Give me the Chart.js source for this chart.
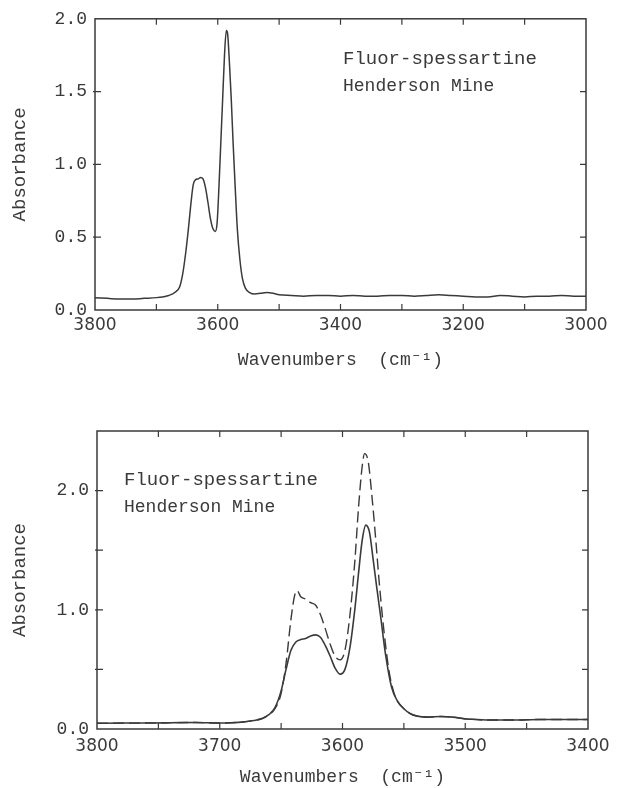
<!DOCTYPE html>
<html>
<head>
<meta charset="utf-8">
<script src="https://cdn.jsdelivr.net/npm/chart.js@4/dist/chart.umd.min.js"></script>
<style>
  html, body { margin: 0; padding: 0; background: #fff; }
  #wrap { position: relative; width: 624px; height: 788px; }
  .box { position: absolute; left: 0; width: 624px; }
</style>
</head>
<body>
<div id="wrap">
  <div class="box" style="top:0;height:380px;"><canvas id="c1" width="624" height="380"></canvas></div>
  <div class="box" style="top:400px;height:388px;"><canvas id="c2" width="624" height="388"></canvas></div>
</div>
<script>
// ---------------- DATA ----------------
// Top panel: Fluor-spessartine, Henderson Mine, 3800-3000 cm-1
const topWavenumbers = [3800,3780,3760,3740,3720,3700,3690,3680,3670,3662,3657,3652,3648,3644,3640,3636,3632,3628,3624,3620,3616,3612,3608,3604,3601,3598,3595,3592,3589,3586,3584,3581,3578,3575,3572,3568,3564,3560,3555,3548,3540,3530,3520,3510,3500,3480,3460,3440,3420,3400,3380,3360,3340,3320,3300,3280,3260,3240,3220,3200,3180,3160,3140,3120,3100,3080,3060,3040,3020,3000];
const topAbsorbance  = [0.085,0.08,0.075,0.075,0.08,0.085,0.09,0.10,0.12,0.16,0.25,0.40,0.55,0.72,0.86,0.895,0.90,0.91,0.90,0.84,0.74,0.63,0.56,0.54,0.60,0.85,1.15,1.45,1.75,1.92,1.90,1.70,1.45,1.15,0.88,0.55,0.35,0.22,0.15,0.12,0.11,0.115,0.12,0.115,0.105,0.10,0.095,0.10,0.10,0.095,0.10,0.095,0.095,0.10,0.10,0.095,0.10,0.105,0.10,0.095,0.09,0.09,0.10,0.095,0.09,0.095,0.095,0.10,0.095,0.095];
const topXTicks = [3800,3600,3400,3200,3000];
const topYTicks = [0.0,0.5,1.0,1.5,2.0];

// Bottom panel: 3800-3400 cm-1, solid and dashed spectra
const solidWavenumbers = [3800,3780,3760,3740,3720,3700,3690,3680,3670,3665,3660,3655,3650,3646,3642,3638,3634,3630,3626,3622,3618,3614,3610,3606,3602,3598,3594,3590,3587,3584,3581,3578,3575,3572,3569,3565,3560,3555,3550,3545,3540,3530,3520,3510,3500,3490,3480,3460,3440,3420,3400];
const solidAbsorbance  = [0.048,0.05,0.05,0.052,0.055,0.05,0.052,0.06,0.075,0.09,0.12,0.18,0.32,0.50,0.66,0.73,0.75,0.76,0.78,0.79,0.77,0.70,0.61,0.51,0.46,0.50,0.68,1.00,1.30,1.58,1.71,1.65,1.42,1.18,0.95,0.63,0.35,0.23,0.17,0.13,0.11,0.10,0.105,0.10,0.085,0.08,0.075,0.075,0.08,0.08,0.08];
const dashedWavenumbers = [3800,3760,3720,3700,3680,3670,3665,3660,3655,3650,3646,3642,3639,3637,3634,3630,3626,3622,3618,3614,3610,3606,3602,3598,3594,3590,3587,3584,3582,3579,3576,3573,3570,3566,3562,3558,3555,3550,3545,3540,3530,3520,3510,3500,3480,3460,3440,3420,3400];
const dashedAbsorbance  = [0.048,0.05,0.055,0.05,0.06,0.075,0.09,0.12,0.17,0.30,0.55,0.92,1.12,1.16,1.11,1.09,1.06,1.04,0.96,0.84,0.71,0.61,0.58,0.66,0.95,1.40,1.85,2.20,2.31,2.24,1.95,1.60,1.22,0.80,0.48,0.30,0.23,0.17,0.13,0.11,0.10,0.105,0.10,0.085,0.075,0.075,0.08,0.08,0.08];
const bottomXTicks = [3800,3700,3600,3500,3400];
const bottomYTicks = [0.0,1.0,2.0];

const sampleLines = ['Fluor-spessartine', 'Henderson Mine'];
const xTitle = 'Wavenumbers  (cm\u207B\u00B9)';
const yTitle = 'Absorbance';

// ---------------- RENDERING ----------------
const INK = '#3a3a3a';
const MONO = '"Liberation Mono", "DejaVu Sans Mono", monospace';
const SANS = '"DejaVu Sans", sans-serif';

function pts(xs, ys) { return xs.map((x, i) => ({ x: x, y: ys[i] })); }

const framePlugin = {
  id: 'frame',
  afterDatasetsDraw(chart, args, opts) {
    const ctx = chart.ctx, a = chart.chartArea;
    const xs = chart.scales.x, ys = chart.scales.y;
    ctx.save();
    ctx.strokeStyle = INK;
    ctx.lineWidth = 1.5;
    ctx.strokeRect(a.left, a.top, a.right - a.left, a.bottom - a.top);
    ctx.lineWidth = 1.2;
    const L = 6;
    ctx.beginPath();
    xs.ticks.forEach(t => {
      if (t.value === xs.min || t.value === xs.max) return;
      const p = xs.getPixelForValue(t.value);
      ctx.moveTo(p, a.bottom); ctx.lineTo(p, a.bottom - L);
      ctx.moveTo(p, a.top); ctx.lineTo(p, a.top + L);
    });
    ys.ticks.forEach(t => {
      if (t.value === ys.min || t.value === ys.max) return;
      const p = ys.getPixelForValue(t.value);
      ctx.moveTo(a.left - 2, p); ctx.lineTo(a.left + L, p);
      ctx.moveTo(a.right, p); ctx.lineTo(a.right - L, p);
    });
    ctx.stroke();
    // sample annotation
    ctx.fillStyle = INK;
    ctx.font = '19px ' + MONO;
    ctx.textBaseline = 'middle';
    ctx.textAlign = 'left';
    ctx.fillText(sampleLines[0], a.left + opts.dx, a.top + opts.dy1);
    ctx.font = '18px ' + MONO;
    ctx.fillText(sampleLines[1], a.left + opts.dx, a.top + opts.dy2);
    ctx.restore();
  }
};

function makeChart(id, cfg) {
  return new Chart(document.getElementById(id), {
    type: 'line',
    data: { datasets: cfg.datasets },
    options: {
      responsive: false,
      animation: false,
      devicePixelRatio: 1,
      layout: { padding: cfg.padding },
      elements: { point: { radius: 0 }, line: { cubicInterpolationMode: 'monotone' } },
      plugins: {
        legend: { display: false },
        tooltip: { enabled: false },
        frame: cfg.frame
      },
      scales: {
        x: {
          type: 'linear', reverse: true, min: cfg.xMin, max: cfg.xMax,
          grid: { display: false, drawTicks: false },
          border: { display: false },
          afterFit: s => { s.height = cfg.xHeight; },
          ticks: {
            stepSize: cfg.xStep, autoSkip: false, maxRotation: 0, padding: cfg.xTickPad,
            color: INK, font: { family: SANS, size: 17 },
            callback: v => cfg.xLabels.includes(v) ? String(v) : ''
          },
          title: { display: true, text: xTitle, color: INK, font: { family: MONO, size: 18 },
                   padding: { top: 0, bottom: cfg.xTitlePad } }
        },
        y: {
          type: 'linear', min: 0, max: cfg.yMax,
          grid: { display: false, drawTicks: false },
          border: { display: false },
          afterFit: s => { s.width = cfg.yWidth; },
          ticks: {
            stepSize: 0.5, autoSkip: false, padding: 8,
            color: INK, font: { family: MONO, size: 18 },
            callback: v => cfg.yLabels.some(t => Math.abs(t - v) < 1e-9) ? v.toFixed(1) : ''
          },
          title: { display: true, text: yTitle, color: INK, font: { family: MONO, size: 19 },
                   padding: { top: 9, bottom: 0 } }
        }
      }
    },
    plugins: [framePlugin]
  });
}

makeChart('c1', {
  datasets: [{ data: pts(topWavenumbers, topAbsorbance), borderColor: INK, borderWidth: 1.5 }],
  padding: { left: 0, right: 38, top: 16, bottom: 0 },
  xMin: 3000, xMax: 3800, xStep: 100, xLabels: topXTicks, xHeight: 70, xTickPad: 5, xTitlePad: 9,
  yMax: 2.0, yLabels: topYTicks, yWidth: 95,
  frame: { dx: 248, dy1: 40, dy2: 67 }
});

makeChart('c2', {
  datasets: [
    { data: pts(solidWavenumbers, solidAbsorbance), borderColor: INK, borderWidth: 1.6 },
    { data: pts(dashedWavenumbers, dashedAbsorbance), borderColor: INK, borderWidth: 1.4, borderDash: [11, 5] }
  ],
  padding: { left: 0, right: 36, top: 31, bottom: 0 },
  xMin: 3400, xMax: 3800, xStep: 50, xLabels: bottomXTicks, xHeight: 59, xTickPad: 7, xTitlePad: 0,
  yMax: 2.5, yLabels: bottomYTicks, yWidth: 97,
  frame: { dx: 27, dy1: 49, dy2: 76 }
});
</script>
</body>
</html>
